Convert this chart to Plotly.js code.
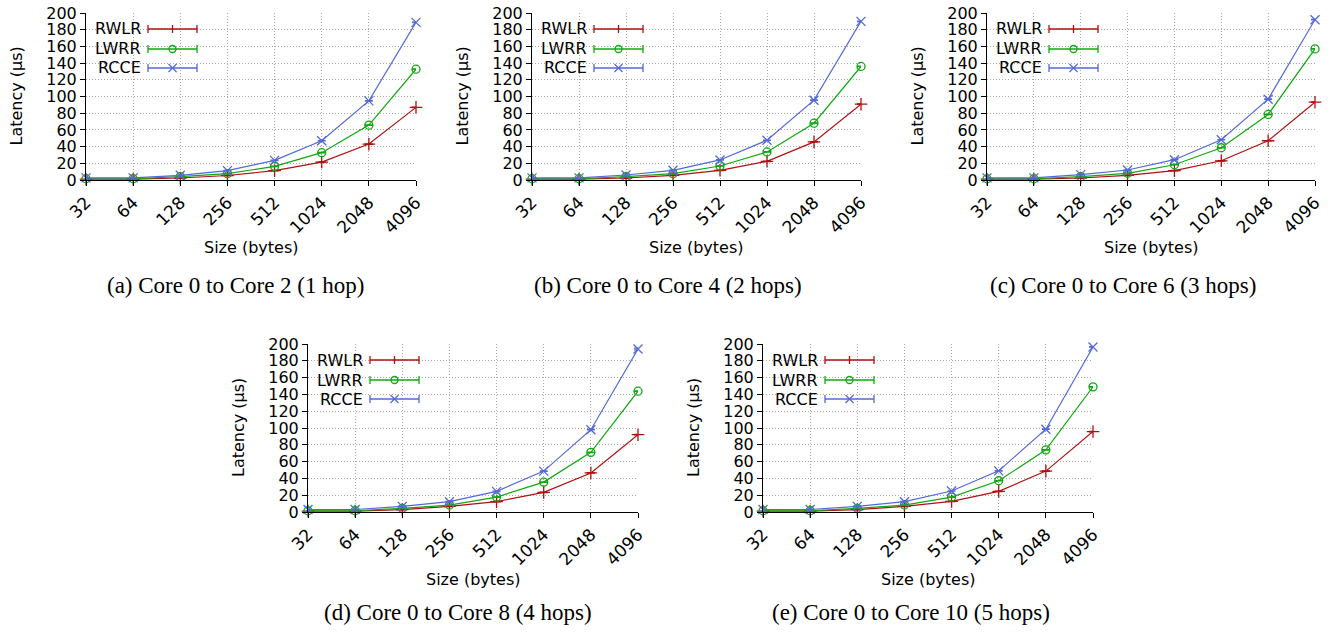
<!DOCTYPE html>
<html>
<head>
<meta charset="utf-8">
<script src="https://cdn.plot.ly/plotly-3.0.1.min.js"></script>
<style>html,body{margin:0;padding:0;background:#fff;}#chart{width:1335px;height:635px;}</style>
</head>
<body>
<div id="chart"></div>
<script>
const sizes = ['32','64','128','256','512','1024','2048','4096'];
const seriesNames = ['RWLR','LWRR','RCCE'];

const rwlrA = [1.0,1.0,2.4,5.4,11.2,21.5,43.0,87.0];
const lwrrA = [1.5,1.5,4.0,7.6,16.3,32.7,65.7,132.7];
const rcceA = [2.5,2.5,5.6,11.2,23.5,47.0,94.8,188.8];

const rwlrB = [1.0,1.0,2.4,5.6,11.6,22.4,45.6,90.8];
const lwrrB = [1.5,1.5,4.0,7.6,16.8,33.6,68.0,136.0];
const rcceB = [2.5,2.5,6.0,11.6,24.0,47.6,95.6,190.0];

const rwlrC = [1.0,1.0,2.4,5.6,11.2,23.0,47.0,93.2];
const lwrrC = [1.5,1.5,4.0,8.0,18.3,38.6,78.5,157.0];
const rcceC = [2.5,2.5,6.4,12.0,24.3,48.2,96.8,192.0];

const rwlrD = [1.0,1.0,2.8,6.7,12.3,23.4,46.5,92.0];
const lwrrD = [1.5,1.5,4.4,8.3,17.8,35.6,71.0,143.8];
const rcceD = [3.0,3.0,6.7,12.3,24.6,48.7,98.0,194.0];

const rwlrE = [1.0,1.0,2.8,6.7,12.7,24.6,48.7,95.8];
const lwrrE = [1.5,1.5,4.4,8.3,17.8,37.2,74.0,149.0];
const rcceE = [3.0,3.0,6.7,12.3,25.0,49.0,98.6,196.5];

const errSmall = [0.3,0.3,0.3,0.3,0.3,0.3,0.3,0.3];
const errRcceD = [0.3,0.3,0.3,0.3,0.3,0.3,0.3,1.0];

const captions = ['(a) Core 0 to Core 2 (1 hop)','(b) Core 0 to Core 4 (2 hops)','(c) Core 0 to Core 6 (3 hops)','(d) Core 0 to Core 8 (4 hops)','(e) Core 0 to Core 10 (5 hops)'];
const xTitle = 'Size (bytes)';
const yTitle = 'Latency (µs)';
const yTicks = [0,20,40,60,80,100,120,140,160,180,200];

const panels = [
  {data:[rwlrA,lwrrA,rcceA], err:[errSmall,errSmall,errSmall], px:[86,416], py:[13,180], cap:[235,285]},
  {data:[rwlrB,lwrrB,rcceB], err:[errSmall,errSmall,errSmall], px:[532,861], py:[13,180], cap:[668,285]},
  {data:[rwlrC,lwrrC,rcceC], err:[errSmall,errSmall,errSmall], px:[987,1315], py:[13,180], cap:[1123,285]},
  {data:[rwlrD,lwrrD,rcceD], err:[errSmall,errSmall,errRcceD], px:[308,638], py:[344,512], cap:[458,612]},
  {data:[rwlrE,lwrrE,rcceE], err:[errSmall,errSmall,errSmall], px:[763,1093], py:[344,512], cap:[911,612]}
];

const W = 1335, H = 635;
const colors = ['#b01010','#10a810','#5468d8'];
const symbols = ['cross-thin-open','circle-open','x-thin-open'];
const msize = [9,8,9];
const font = 'DejaVu Sans, sans-serif';

const traces = [];
const layout = {
  width: W, height: H,
  margin: {l:0,r:0,t:0,b:0},
  paper_bgcolor: '#fff', plot_bgcolor: '#fff',
  showlegend: false,
  annotations: [], shapes: []
};

panels.forEach((p, i) => {
  const n = i === 0 ? '' : String(i+1);
  const xa = 'x' + n, ya = 'y' + n;
  layout['xaxis' + n] = {
    domain: [p.px[0]/W, p.px[1]/W],
    anchor: ya,
    type: 'category',
    categoryorder: 'array', categoryarray: sizes,
    range: [0, sizes.length-1],
    tickangle: -45,
    tickfont: {family: font, size: 17, color: '#000'},
    showline: true, linecolor: '#000', linewidth: 1, mirror: false,
    ticks: 'outside', ticklen: 5, tickcolor: '#000',
    showgrid: true, gridcolor: '#a8a8a8', griddash: '1px,2px', gridwidth: 1,
    zeroline: false, fixedrange: true
  };
  layout['yaxis' + n] = {
    domain: [1 - p.py[1]/H, 1 - p.py[0]/H],
    anchor: xa,
    range: [0, 200],
    tickvals: yTicks,
    tickfont: {family: font, size: 16, color: '#000'},
    showline: true, linecolor: '#000', linewidth: 1, mirror: false,
    ticks: 'outside', ticklen: 5, tickcolor: '#000',
    showgrid: true, gridcolor: '#a8a8a8', griddash: '1px,2px', gridwidth: 1,
    zeroline: false, fixedrange: true
  };
  p.data.forEach((vals, s) => {
    traces.push({
      type: 'scatter', mode: 'lines+markers',
      x: sizes, y: vals, xaxis: xa, yaxis: ya,
      name: seriesNames[s],
      line: {color: colors[s], width: 1.2},
      marker: {symbol: symbols[s], size: msize[s], color: colors[s], line: {color: colors[s], width: 1.3}},
      error_y: {type: 'data', array: p.err[s], visible: true, color: colors[s], thickness: 1.2, width: 4},
      cliponaxis: false
    });
  });
  layout.annotations.push({
    xref: 'paper', yref: 'paper',
    x: (p.px[0] - 70)/W, y: 1 - ((p.py[0]+p.py[1])/2)/H,
    text: yTitle, textangle: -90, showarrow: false,
    xanchor: 'center', yanchor: 'middle',
    font: {family: font, size: 16, color: '#000'}
  });
  layout.annotations.push({
    xref: 'paper', yref: 'paper',
    x: ((p.px[0]+p.px[1])/2)/W, y: 1 - (p.py[1] + 67)/H,
    text: xTitle, showarrow: false,
    xanchor: 'center', yanchor: 'middle',
    font: {family: font, size: 16, color: '#000'}
  });
  layout.annotations.push({
    xref: 'paper', yref: 'paper',
    x: p.cap[0]/W, y: 1 - p.cap[1]/H,
    text: captions[i], showarrow: false,
    xanchor: 'center', yanchor: 'middle',
    font: {family: 'Liberation Serif, serif', size: 23, color: '#000'}
  });
  const rows = [16, 36, 55];
  seriesNames.forEach((nm, s) => {
    const c = colors[s];
    layout.annotations.push({
      xref: xa + ' domain', yref: ya + ' domain',
      x: 0, y: 1, xshift: 57, yshift: -rows[s],
      text: nm, showarrow: false, xanchor: 'right', yanchor: 'middle',
      font: {family: font, size: 16, color: '#000'}
    });
    const base = {xref: xa + ' domain', yref: ya + ' domain', xsizemode: 'pixel', ysizemode: 'pixel', xanchor: 0, yanchor: 1, line: {color: c, width: 1.3}};
    const yc = -rows[s];
    layout.shapes.push(Object.assign({}, base, {type: 'line', x0: 62, x1: 111, y0: yc, y1: yc}));
    layout.shapes.push(Object.assign({}, base, {type: 'line', x0: 62, x1: 62, y0: yc-4, y1: yc+4}));
    layout.shapes.push(Object.assign({}, base, {type: 'line', x0: 111, x1: 111, y0: yc-4, y1: yc+4}));
    const mx = 86.5;
    if (s === 0) {
      layout.shapes.push(Object.assign({}, base, {type: 'line', x0: mx, x1: mx, y0: yc-4, y1: yc+4}));
    } else if (s === 1) {
      layout.shapes.push(Object.assign({}, base, {type: 'circle', x0: mx-3.5, x1: mx+3.5, y0: yc-3.5, y1: yc+3.5}));
    } else {
      layout.shapes.push(Object.assign({}, base, {type: 'line', x0: mx-4, x1: mx+4, y0: yc-4, y1: yc+4}));
      layout.shapes.push(Object.assign({}, base, {type: 'line', x0: mx-4, x1: mx+4, y0: yc+4, y1: yc-4}));
    }
  });
});

Plotly.newPlot('chart', traces, layout, {displayModeBar: false, staticPlot: true});
</script>
</body>
</html>
